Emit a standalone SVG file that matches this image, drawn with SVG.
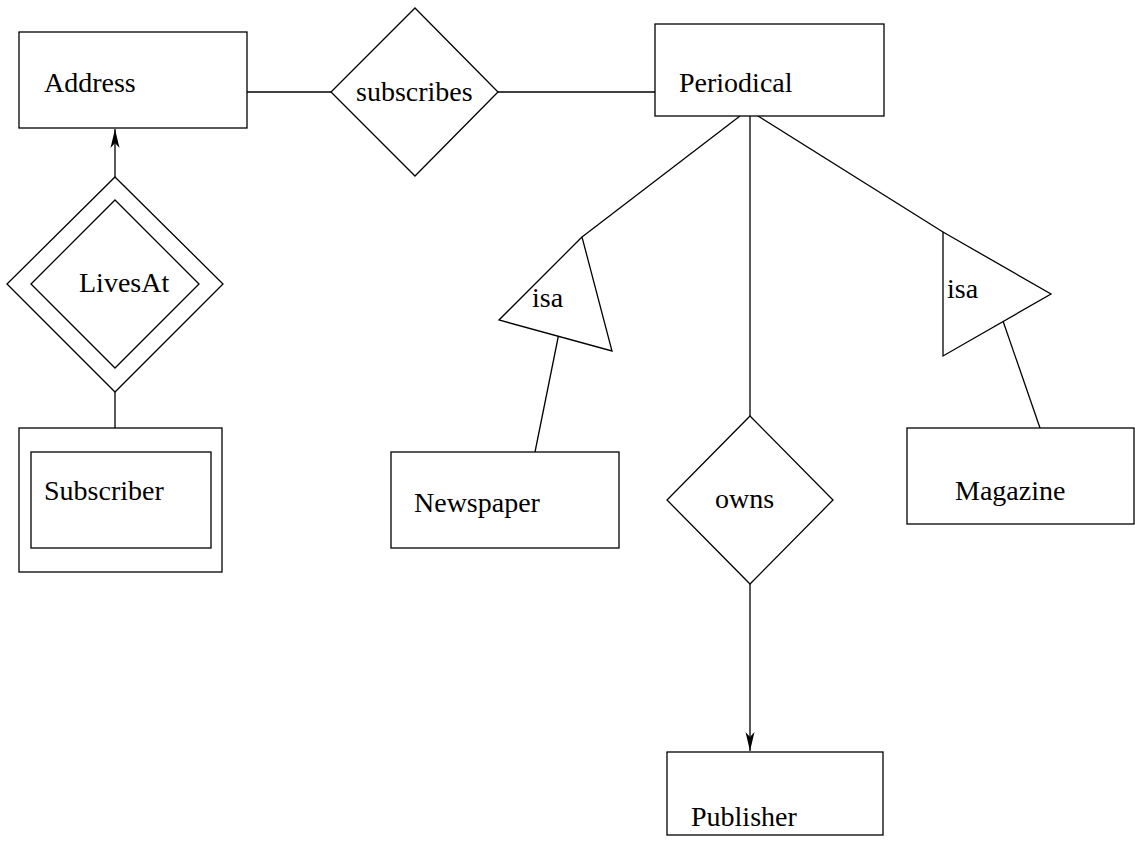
<svg xmlns="http://www.w3.org/2000/svg" width="1135" height="846" viewBox="0 0 1135 846">
<style>
.s{fill:#fff;stroke:#000;stroke-width:1.3}
.c{fill:none;stroke:#000;stroke-width:1.3}
text{font-family:"Liberation Serif","Times New Roman",serif;font-size:28px;fill:#000}
</style>
<defs>
<marker id="ah" markerWidth="20" markerHeight="12" refX="19" refY="6" orient="auto" markerUnits="userSpaceOnUse">
<path d="M0,1.5 L19,6 L0,10.5 L5,6 Z" fill="#000"/>
</marker>
</defs>
<rect width="1135" height="846" fill="#fff"/>
<g id="connectors">
<line class="c" x1="247" y1="92" x2="331" y2="92"/>
<line class="c" x1="498" y1="92" x2="655" y2="92"/>
<line class="c" x1="115" y1="177" x2="115" y2="129" marker-end="url(#ah)"/>
<line class="c" x1="115" y1="392" x2="115" y2="428"/>
<line class="c" x1="740" y1="116" x2="582" y2="237"/>
<line class="c" x1="559" y1="333" x2="535" y2="452"/>
<line class="c" x1="750" y1="116" x2="750" y2="416"/>
<line class="c" x1="750" y1="584" x2="750" y2="751" marker-end="url(#ah)"/>
<line class="c" x1="758" y1="116" x2="943" y2="232"/>
<line class="c" x1="1003" y1="321" x2="1040" y2="428"/>
</g>
<g id="address">
<rect class="s" x="19" y="32" width="228" height="96"/>
<text x="44" y="92">Address</text>
</g>
<g id="subscribes">
<polygon class="s" points="415,8 498,92 415,176 331,92"/>
<text x="356" y="101">subscribes</text>
</g>
<g id="periodical">
<rect class="s" x="655" y="24" width="229" height="92"/>
<text x="679" y="92">Periodical</text>
</g>
<g id="livesat">
<polygon class="s" points="115,177 223,284 115,392 7,284"/>
<polygon class="s" points="115,200 199,284 115,368 31,284"/>
<text x="79" y="292">LivesAt</text>
</g>
<g id="subscriber">
<rect class="s" x="19" y="428" width="203" height="144"/>
<rect class="s" x="31" y="452" width="180" height="96"/>
<text x="44" y="500">Subscriber</text>
</g>
<g id="isa1">
<polygon class="s" points="582,237 499,320 612,351"/>
<text x="532" y="307">isa</text>
</g>
<g id="isa2">
<polygon class="s" points="943,232 1051,294 943,356"/>
<text x="947" y="298">isa</text>
</g>
<g id="newspaper">
<rect class="s" x="391" y="452" width="228" height="96"/>
<text x="414" y="512">Newspaper</text>
</g>
<g id="owns">
<polygon class="s" points="750,416 833,500 750,584 667,500"/>
<text x="715" y="508">owns</text>
</g>
<g id="magazine">
<rect class="s" x="907" y="428" width="227" height="96"/>
<text x="955" y="500">Magazine</text>
</g>
<g id="publisher">
<rect class="s" x="667" y="752" width="216" height="83"/>
<text x="691" y="826">Publisher</text>
</g>
</svg>
